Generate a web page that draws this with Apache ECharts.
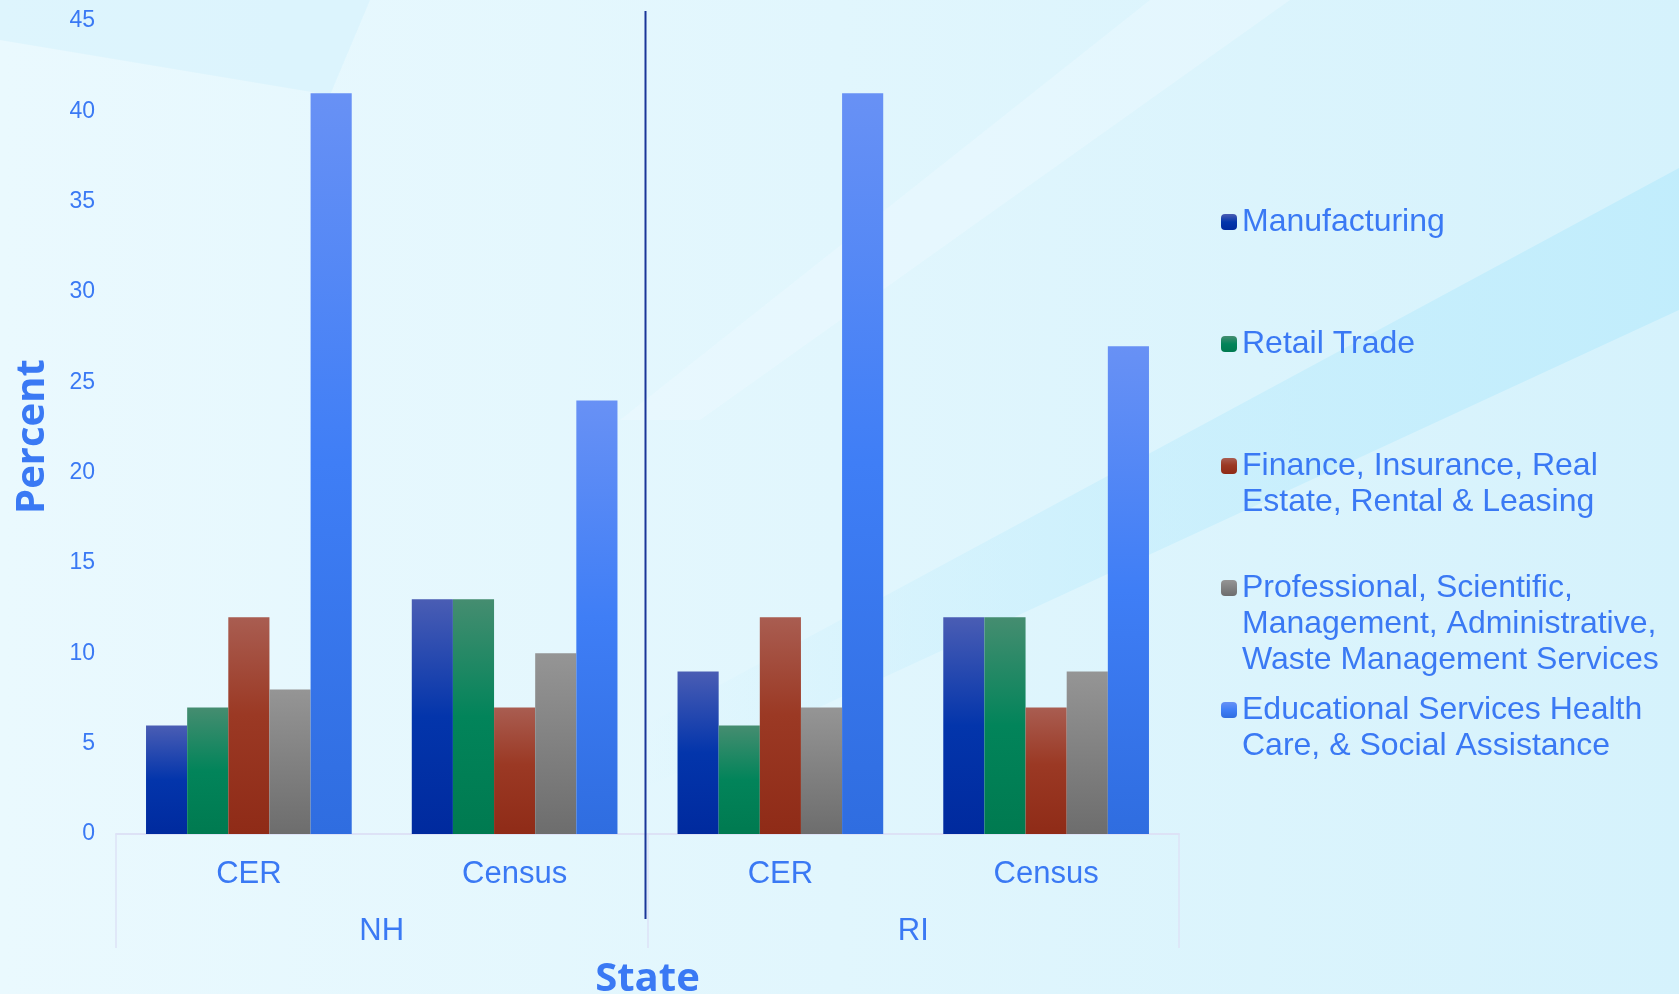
<!DOCTYPE html>
<html>
<head>
<meta charset="utf-8">
<title>Industry by State</title>
<script src="https://cdn.jsdelivr.net/npm/echarts@6/dist/echarts.min.js"></script>
<style>
  html, body { margin: 0; padding: 0; }
  #chart { width: 1679px; height: 994px; }
</style>
</head>
<body>
<div id="chart"></div>
<script>
// data
const categories = ['CER', 'Census', 'CER', 'Census']
const states = ['NH', 'RI']
const seriesNames = [
    'Manufacturing',
    'Retail Trade',
    'Finance, Insurance, Real\nEstate, Rental & Leasing',
    'Professional, Scientific,\nManagement, Administrative,\nWaste Management Services',
    'Educational Services Health\nCare, & Social Assistance'
]
const manufacturing = [6, 13, 9, 12]
const retailTrade = [7, 13, 6, 12]
const finance = [12, 7, 12, 7]
const professional = [8, 10, 7, 9]
const educational = [41, 24, 41, 27]
const yMin = 0
const yMax = 45
const yStep = 5

const TEXT = '#3a79f4'
const FAINT = '#dde2f6'
const LINE_H = 36

function vGrad(stops) {
    return new echarts.graphic.LinearGradient(0, 0, 0, 1,
        stops.map(s => ({ offset: s[0], color: s[1] })))
}

const barColors = [
    vGrad([[0, '#4a5db4'], [0.5, '#0335ab'], [1, '#002a9e']]),
    vGrad([[0, '#458d70'], [0.5, '#02845a'], [1, '#007a50']]),
    vGrad([[0, '#a95d51'], [0.45, '#9b3924'], [1, '#8f2b17']]),
    vGrad([[0, '#959595'], [1, '#6d6d6d']]),
    vGrad([[0, '#6891f5'], [0.5, '#3f7ef6'], [1, '#2f6de0']])
]
const values = [manufacturing, retailTrade, finance, professional, educational]

// every legend text becomes a 5 line block with the first real line in the middle,
// so the icon lines up with the first line and all items are the same height
function legendText(name) {
    const n = name.split('\n').length
    return '\n\n' + name + '\n'.repeat(3 - n)
}

const chart = echarts.init(document.getElementById('chart'), null, { renderer: 'canvas' })

const option = {
    animation: false,
    backgroundColor: '#e2f6fd',
    textStyle: { fontFamily: 'Liberation Sans, Arial, sans-serif' },
    grid: { left: 116, right: 500, top: 21, bottom: 160, containLabel: false, outerBoundsMode: 'none' },
    legend: {
        orient: 'vertical',
        left: 1221,
        top: 132,
        padding: 0,
        itemGap: 122 - 5 * LINE_H,
        itemWidth: 16,
        itemHeight: 16,
        itemTextGap: 14,
        selectedMode: false,
        formatter: legendText,
        textStyle: {
            color: TEXT,
            fontSize: 32,
            lineHeight: LINE_H
        },
        data: seriesNames
    },
    xAxis: [
        {
            type: 'category',
            data: categories,
            axisLine: { lineStyle: { color: FAINT, width: 2 } },
            axisTick: { show: false },
            axisLabel: { color: TEXT, fontSize: 31, margin: 25 },
            splitLine: { show: false },
            name: 'State',
            nameLocation: 'middle',
            nameGap: 126,
            nameTextStyle: { color: TEXT, fontSize: 40, fontWeight: 'bold', fontFamily: 'Open Sans' }
        },
        {
            type: 'category',
            data: states,
            position: 'bottom',
            axisLine: { show: false },
            axisTick: { show: true, interval: 0, length: 114, lineStyle: { color: FAINT, width: 1.5 } },
            axisLabel: { color: TEXT, fontSize: 31, margin: 82 },
            splitLine: { show: false }
        }
    ],
    yAxis: {
        type: 'value',
        min: yMin,
        max: yMax,
        interval: yStep,
        axisLine: { show: false },
        axisTick: { show: false },
        splitLine: { show: false },
        axisLabel: { color: TEXT, fontSize: 23, margin: 21 },
        name: 'Percent',
        nameLocation: 'middle',
        nameRotate: 90,
        nameGap: 63,
        nameTextStyle: { color: TEXT, fontSize: 40, fontWeight: 'bold', fontFamily: 'Open Sans', padding: [0, 18, 0, 0] }
    },
    series: seriesNames.map((name, i) => ({
        name,
        type: 'bar',
        xAxisIndex: 0,
        data: values[i],
        barGap: 0,
        barCategoryGap: '22.6%',
        itemStyle: { color: barColors[i] },
        emphasis: { disabled: true }
    }))
}

chart.setOption(option)

// background streaks + the dark separator between the two states
const mid = (chart.convertToPixel({ xAxisIndex: 0 }, 1) + chart.convertToPixel({ xAxisIndex: 0 }, 2)) / 2 - 2
const W = 1679, H = 994
chart.setOption({
    graphic: [
        {
            type: 'rect', z: -10, silent: true,
            shape: { x: 0, y: 0, width: W, height: H },
            style: { fill: new echarts.graphic.LinearGradient(0, 0, 1, 0, [
                { offset: 0, color: '#eaf9fe' },
                { offset: 0.5, color: '#e1f6fd' },
                { offset: 1, color: '#d5f2fc' }
            ]) }
        },
        {
            type: 'polygon', z: -9, silent: true,
            shape: { points: [[0, 0], [370, 0], [330, 95], [0, 40]] },
            style: { fill: 'rgba(200,238,252,0.35)' }
        },
        {
            type: 'polygon', z: -9, silent: true,
            shape: { points: [[640, 728], [1679, 168], [1679, 310], [640, 790]] },
            style: { fill: new echarts.graphic.LinearGradient(0, 0, 1, 0, [
                { offset: 0, color: 'rgba(190,236,252,0)' },
                { offset: 0.45, color: 'rgba(190,236,252,0.5)' },
                { offset: 1, color: 'rgba(190,236,252,0.85)' }
            ]) }
        },
        {
            type: 'polygon', z: -9, silent: true,
            shape: { points: [[1150, 0], [1290, 0], [700, 420], [620, 420]] },
            style: { fill: 'rgba(240,251,255,0.4)' }
        },
        {
            type: 'line', z: 5, silent: true,
            shape: { x1: mid, y1: 11, x2: mid, y2: 919 },
            style: { stroke: '#1a3699', lineWidth: 2 }
        }
    ]
})
</script>
</body>
</html>
